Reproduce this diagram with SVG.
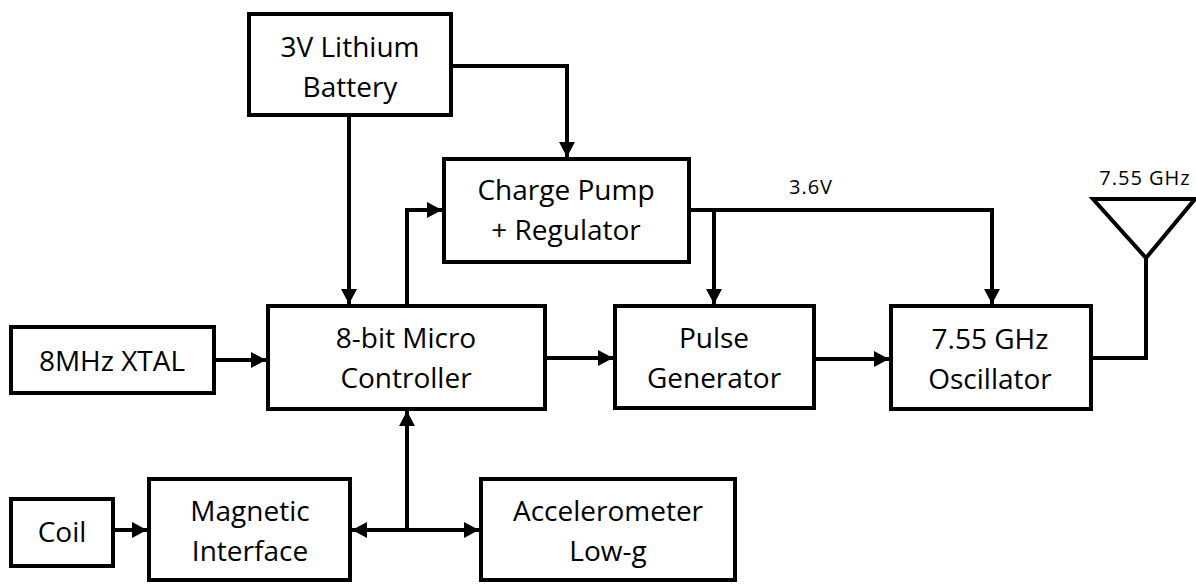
<svg xmlns="http://www.w3.org/2000/svg" width="1196" height="584" viewBox="0 0 1196 584">
<defs>
<style>
.box{fill:#fff;stroke:#000;stroke-width:4}
.t{font-family:"Open Sans","Liberation Sans",sans-serif;font-size:28px;fill:#000;text-anchor:middle}
.s{font-family:"Open Sans","Liberation Sans",sans-serif;font-size:20px;letter-spacing:1px;fill:#000;text-anchor:middle}
.c{fill:none;stroke:#000;stroke-width:4}
</style>
<marker id="ah" markerUnits="userSpaceOnUse" markerWidth="16" markerHeight="18" refX="15" refY="8" orient="auto-start-reverse" viewBox="0 0 16 16">
<path d="M0,0 L15,8 L0,16 z" fill="#000"/>
</marker>
</defs>
<rect width="1196" height="584" fill="#fff"/>
<g id="connectors">
<path class="c" d="M453,66 H567 V157" marker-end="url(#ah)"/>
<path class="c" d="M349,117 V304" marker-end="url(#ah)"/>
<path class="c" d="M407,304 V210 H442" marker-end="url(#ah)"/>
<path class="c" d="M691,210 H992 V304" marker-end="url(#ah)"/>
<path class="c" d="M714,210 V304" marker-end="url(#ah)"/>
<path class="c" d="M216,360 H266" marker-end="url(#ah)"/>
<path class="c" d="M547,358 H613" marker-end="url(#ah)"/>
<path class="c" d="M816,359 H889" marker-end="url(#ah)"/>
<path class="c" d="M1093,358 H1146 V258"/>
<path class="c" d="M115,530 H147" marker-end="url(#ah)"/>
<path class="c" d="M352,530 H479" marker-start="url(#ah)" marker-end="url(#ah)"/>
<path class="c" d="M407,530 V411" marker-end="url(#ah)"/>
<text class="s" x="811" y="194">3.6V</text>
</g>
<g id="battery">
<rect class="box" x="249" y="14" width="202" height="101"/>
<text class="t" x="350" y="57">3V Lithium</text>
<text class="t" x="350" y="97">Battery</text>
</g>
<g id="chargepump">
<rect class="box" x="444" y="159" width="245" height="103"/>
<text class="t" x="566" y="200">Charge Pump</text>
<text class="t" x="566" y="240">+ Regulator</text>
</g>
<g id="mcu">
<rect class="box" x="268" y="306" width="277" height="103"/>
<text class="t" x="406" y="348">8-bit Micro</text>
<text class="t" x="406" y="388">Controller</text>
</g>
<g id="pulse">
<rect class="box" x="615" y="306" width="199" height="102"/>
<text class="t" x="714" y="348">Pulse</text>
<text class="t" x="714" y="388">Generator</text>
</g>
<g id="oscillator">
<rect class="box" x="891" y="306" width="200" height="103"/>
<text class="t" x="990" y="349">7.55 GHz</text>
<text class="t" x="990" y="389">Oscillator</text>
</g>
<g id="antenna">
<path class="c" d="M1093,199 H1195 L1146,258 Z" stroke-linejoin="miter"/>
<text class="s" x="1145" y="185">7.55 GHz</text>
</g>
<g id="xtal">
<rect class="box" x="11" y="327" width="203" height="66"/>
<text class="t" x="112" y="371">8MHz XTAL</text>
</g>
<g id="coil">
<rect class="box" x="11" y="499" width="102" height="67"/>
<text class="t" x="62" y="542">Coil</text>
</g>
<g id="magnetic">
<rect class="box" x="149" y="479" width="201" height="101"/>
<text class="t" x="250" y="521">Magnetic</text>
<text class="t" x="250" y="561">Interface</text>
</g>
<g id="accelerometer">
<rect class="box" x="481" y="479" width="254" height="101"/>
<text class="t" x="608" y="521">Accelerometer</text>
<text class="t" x="608" y="561">Low-g</text>
</g>
</svg>
